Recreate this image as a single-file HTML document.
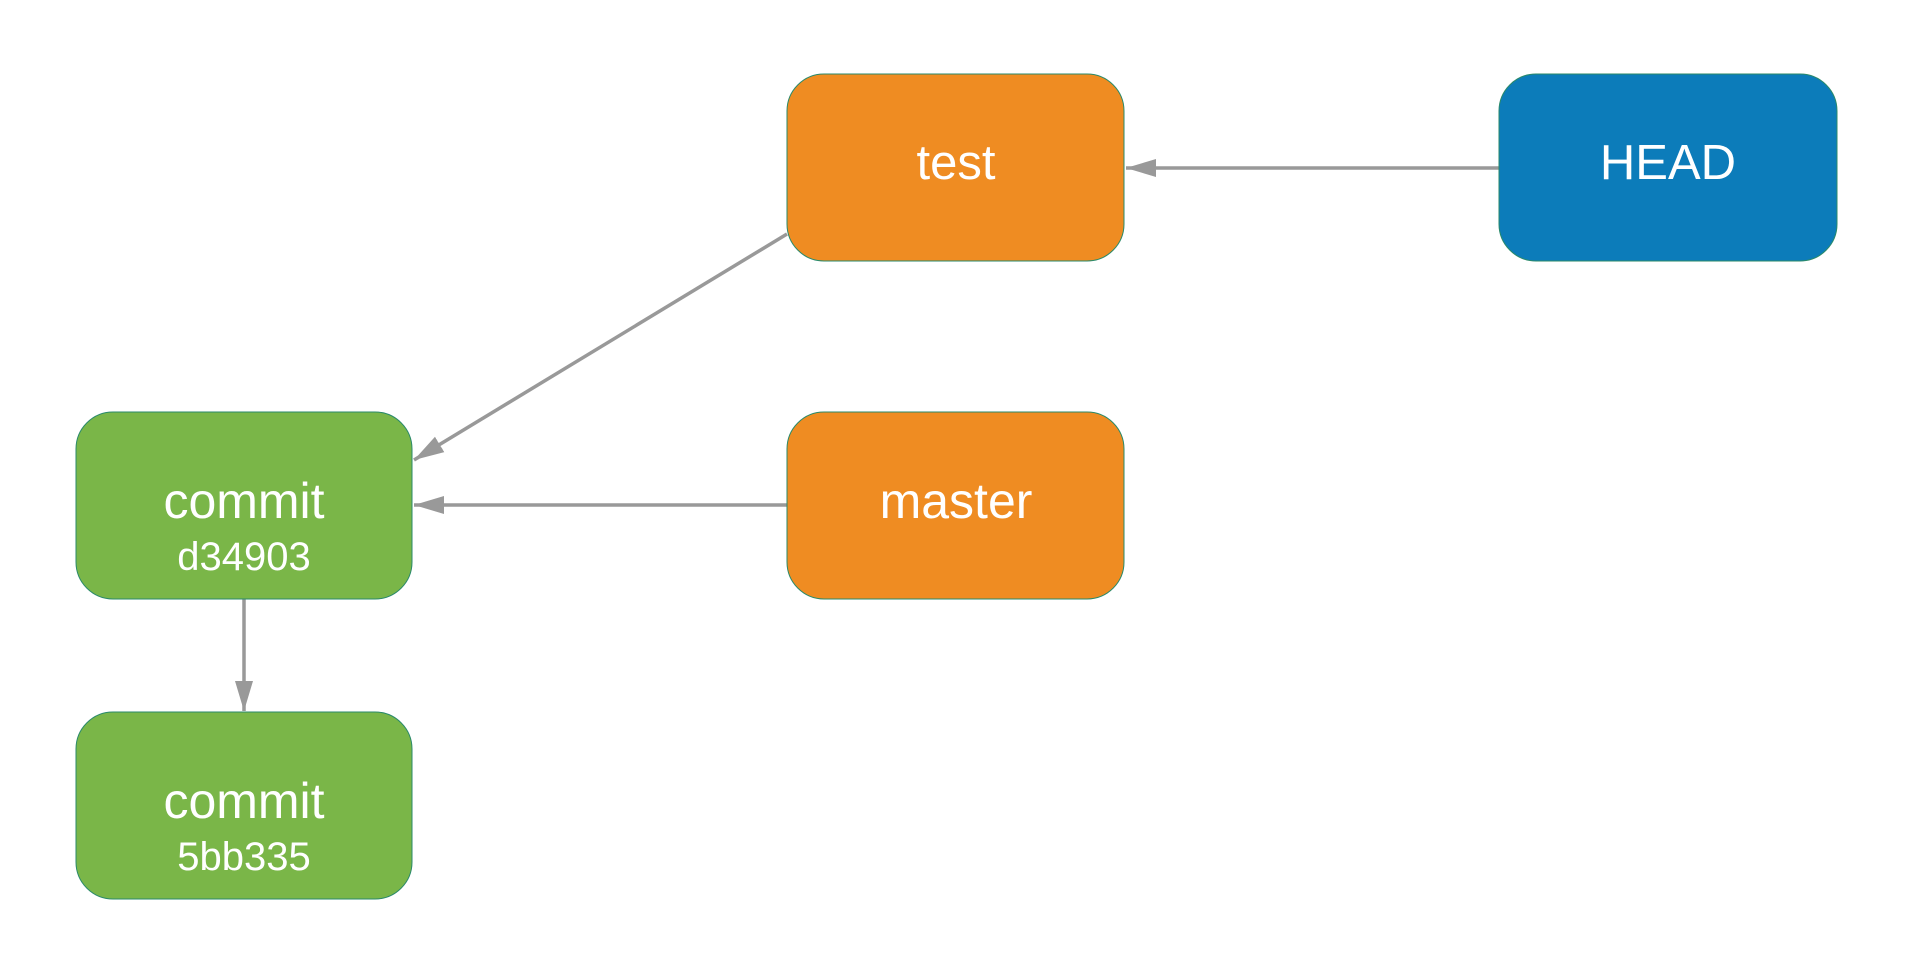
<!DOCTYPE html>
<html><head><style>
html,body{margin:0;padding:0;background:#fff;width:1913px;height:975px;overflow:hidden}
svg text{font-family:"Liberation Sans",sans-serif;fill:#fff;text-anchor:middle}
</style></head><body>
<svg width="1913" height="975" xmlns="http://www.w3.org/2000/svg">
<defs>
<marker id="b" viewBox="0 0 30 20" refX="30" refY="10" markerWidth="30" markerHeight="20" orient="auto" markerUnits="userSpaceOnUse">
<path d="M0,1 L30,10 L0,19 z" fill="#999"/></marker>
</defs>
<g stroke="#999" stroke-width="3.5" fill="none">
<line x1="1499" y1="168" x2="1126" y2="168" marker-end="url(#b)"/>
<line x1="787" y1="505" x2="414" y2="505" marker-end="url(#b)"/>
<line x1="787" y1="234" x2="414" y2="460" marker-end="url(#b)"/>
<line x1="244" y1="599" x2="244" y2="711" marker-end="url(#b)"/>
</g>
<g stroke="#2a8a6a" stroke-width="1">
<rect x="787" y="74" width="337" height="187" rx="37" fill="#ef8c22"/>
<rect x="1499" y="74" width="338" height="187" rx="37" fill="#0c7cba"/>
<rect x="76" y="412" width="336" height="187" rx="37" fill="#7ab648"/>
<rect x="787" y="412" width="337" height="187" rx="37" fill="#ef8c22"/>
<rect x="76" y="712" width="336" height="187" rx="37" fill="#7ab648"/>
</g>
<text x="956" y="179" font-size="49">test</text>
<text x="1668" y="179" font-size="49">HEAD</text>
<text x="244" y="518" font-size="50">commit</text>
<text x="244" y="570" font-size="40">d34903</text>
<text x="956" y="518" font-size="50">master</text>
<text x="244" y="818" font-size="50">commit</text>
<text x="244" y="870" font-size="40">5bb335</text>
</svg>
</body></html>
